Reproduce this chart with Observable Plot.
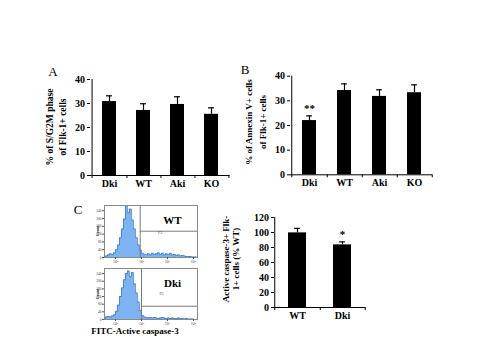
<!DOCTYPE html>
<html><head><meta charset="utf-8">
<script src="https://cdn.jsdelivr.net/npm/d3@7"></script>
<script src="https://cdn.jsdelivr.net/npm/@observablehq/plot@0.6"></script>
<style>
body{margin:0;background:#fff;}
#fig{position:relative;width:480px;height:360px;overflow:hidden;background:#fff;font-family:"Liberation Serif","Times New Roman",serif;color:#000;}
#fig svg{position:absolute;overflow:visible;}
.lbl{position:absolute;font-weight:bold;white-space:nowrap;text-align:center;transform:translate(-50%,-50%) rotate(-90deg);}
.txt{position:absolute;white-space:nowrap;transform:translate(-50%,-50%);}
</style></head><body><div id="fig"></div>
<script>
// ---- data ----
const catsAB = ["Dki", "WT", "Aki", "KO"];
const sg2mMean = [30.8, 27.1, 29.6, 25.5];
const sg2mErr = [2.4, 2.8, 3.2, 2.7];
const annexMean = [22.0, 34.2, 31.8, 33.3];
const annexErr = [1.9, 2.7, 2.7, 3.2];
const annexSig = ["**", "", "", ""];
const catsC = ["WT", "Dki"];
const caspMean = [99.5, 83.5];
const caspErr = [6, 4];
const caspSig = ["", "*"];
const yTicksAB = [0, 10, 20, 30, 40];
const yTicksC = [0, 20, 40, 60, 80, 100, 120];
// flow-cytometry histograms (counts per channel bin, % of max)
const wtCounts = [1,3,5,7,6,9,15,24,38,55,74,100,86,93,72,55,38,24,14,8,6,5,7,5,8,6,7,9,6,8,5,7,6,8,5,6,4,5,3,4,3,2,2,2,1,1,1];
const dkiCounts = [2,5,6,5,7,9,16,28,45,62,78,90,95,84,92,70,52,34,18,8,5,4,3,4,3,4,3,2,3,4,3,2,3,2,3,2,2,3,2,2,1,2,1,1,1,0,0];
const decadeTicks = [5.5, 18.5, 31.5, 44.5];
const decadeLabels = ["10²", "10³", "10⁴", "10⁵"];
const histYTicks = [0, 15, 30, 45, 60, 75, 90];
const histYLabels = ["0", "40", "80", "120", "160", "200", "240"];

const FONT = '"Liberation Serif","Times New Roman",serif';
const fig = document.getElementById("fig");

function place(svg, left, top) {
  svg.style.left = left + "px";
  svg.style.top = top + "px";
  fig.appendChild(svg);
}

function barPanel(o) {
  const data = o.cats.map((c, i) => ({c, m: o.mean[i], e: o.mean[i] + o.err[i], s: o.sig ? o.sig[i] : ""}));
  const step = (o.width - o.ml - o.mr) / o.cats.length;
  const pxPerUnit = (o.height - o.mt - o.mb) / o.yMax;
  const bw = step * 0.4;
  const capInset = Math.max(0, (bw - 6) / 2);
  const svg = Plot.plot({
    width: o.width, height: o.height,
    marginLeft: o.ml, marginRight: o.mr, marginTop: o.mt, marginBottom: o.mb,
    style: {fontFamily: FONT, background: "transparent", color: "#000", overflow: "visible"},
    x: {domain: o.cats, paddingInner: 0.6, paddingOuter: 0.3, label: null, axis: null},
    y: {domain: [0, o.yMax], label: null, axis: null},
    marks: [
      Plot.barY(data, {x: "c", y: "m", fill: "#000"}),
      Plot.ruleX(data, {x: "c", y1: "m", y2: "e", stroke: "#000", strokeWidth: 1.2}),
      Plot.tickY(data, {x: "c", y: "e", stroke: "#000", strokeWidth: 1.2, insetLeft: capInset, insetRight: capInset}),
      Plot.text(data, {x: "c", y: "e", text: "s", dy: -7, fontFamily: FONT, fontWeight: "bold", fontSize: 11}),
      Plot.ruleY([0], {stroke: "#000"}),
      Plot.ruleX(o.cats, {x: d => d, y1: 0, y2: -3 / pxPerUnit, dx: step / 2, stroke: "#000"}),
      Plot.ruleX(o.cats.slice(0, 1), {x: d => d, y1: -3 / pxPerUnit, y2: o.yMax, dx: -step / 2, stroke: "#000"}),
      Plot.axisY({ticks: o.yTicks, tickSize: 3, tickPadding: 2.5, label: null, fontFamily: FONT, fontWeight: "bold", fontSize: 10}),
      Plot.axisX({tickSize: 0, tickPadding: 4, label: null, fontFamily: FONT, fontWeight: "bold", fontSize: 10})
    ]
  });
  place(svg, o.left, o.top);
}

function histPanel(o) {
  const data = o.counts.map((c, i) => ({i, c}));
  const xMax = o.counts.length - 0.5;
  const svg = Plot.plot({
    width: o.width, height: o.height,
    marginLeft: o.ml, marginRight: o.mr, marginTop: o.mt, marginBottom: o.mb,
    style: {fontFamily: FONT, background: "transparent", color: "#444", overflow: "visible"},
    x: {domain: [0, xMax], axis: null},
    y: {domain: [0, 100], axis: null},
    marks: [
      Plot.areaY(data, {x: "i", y: "c", fill: "#7db3f0", curve: "step"}),
      Plot.lineY(data, {x: "i", y: "c", stroke: "#2f72d2", strokeWidth: 0.7, curve: "step"}),
      Plot.frame({stroke: "#8a8a8a", strokeWidth: 1}),
      Plot.ruleX([o.gateX], {stroke: "#7a7a7a", strokeWidth: 1}),
      Plot.ruleY([o.gateY], {x1: o.gateX, x2: xMax, stroke: "#7a7a7a", strokeWidth: 1}),
      Plot.text([o.label], {frameAnchor: "top-right", dx: -25, dy: 11, textAnchor: "middle", fontFamily: FONT, fontWeight: "bold", fontSize: 11, fill: "#000"}),
      Plot.text(["P3"], {x: o.gateX + 10, y: o.p3Y, fontSize: 4, fill: "#555"}),
      Plot.axisX({ticks: decadeTicks, tickFormat: (d, i) => decadeLabels[i], tickSize: 2, tickPadding: 1, fontSize: 4, label: null, stroke: "#555"}),
      Plot.axisY({ticks: histYTicks, tickFormat: (d, i) => histYLabels[i], tickSize: 2, tickPadding: 1, fontSize: 3.5, label: null, stroke: "#555"})
    ]
  });
  place(svg, o.left, o.top);
}

function addLabel(html, x, y, size, lh, rotate, bold) {
  const d = document.createElement("div");
  d.className = rotate ? "lbl" : "txt";
  d.style.left = x + "px";
  d.style.top = y + "px";
  d.style.fontSize = size + "px";
  d.style.lineHeight = lh + "px";
  if (bold) d.style.fontWeight = "bold";
  d.innerHTML = html;
  fig.appendChild(d);
}

barPanel({cats: catsAB, mean: sg2mMean, err: sg2mErr, yMax: 40, yTicks: yTicksAB,
  left: 30, top: 60, width: 210, height: 140, ml: 60, mr: 10.5, mt: 19, mb: 25});
barPanel({cats: catsAB, mean: annexMean, err: annexErr, sig: annexSig, yMax: 40, yTicks: yTicksAB,
  left: 230, top: 55, width: 210, height: 140, ml: 60, mr: 8, mt: 20.7, mb: 20.7});
barPanel({cats: catsC, mean: caspMean, err: caspErr, sig: caspSig, yMax: 120, yTicks: yTicksC,
  left: 230, top: 200, width: 150, height: 130, ml: 44, mr: 15, mt: 17, mb: 23});

histPanel({counts: wtCounts, gateX: 17.85, gateY: 50.6, p3Y: 48, label: "WT",
  left: 88, top: 198, width: 115, height: 68, ml: 16, mr: 6, mt: 7, mb: 9});
histPanel({counts: dkiCounts, gateX: 18.5, gateY: 26, p3Y: 50, label: "Dki",
  left: 88, top: 261, width: 115, height: 68, ml: 16, mr: 6, mt: 7, mb: 10});

addLabel("% of S/G2M phase<br>of Flk-1+ cells", 56.5, 127, 9.5, 13, true, true);
addLabel("% of Annexin V+ cells<br>of Flk-1+ cells", 256, 122, 9, 14, true, true);
addLabel("Active caspase-3+ Flk-<br>1+ cells (% WT)", 231, 259, 9, 10, true, true);
addLabel("Count", 97, 231, 4, 5, true, false);
addLabel("Count", 97, 294, 4, 5, true, false);
addLabel("FITC-Active caspase-3", 135, 331, 9, 10, false, true);
addLabel("A", 53, 72, 13, 14, false, false);
addLabel("B", 245, 70, 13, 14, false, false);
addLabel("C", 78, 210, 13, 14, false, false);
</script></body></html>
